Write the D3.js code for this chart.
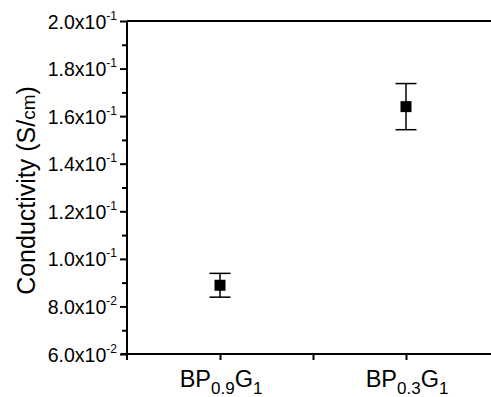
<!DOCTYPE html>
<html>
<head>
<meta charset="utf-8">
<script src="https://cdn.jsdelivr.net/npm/d3@7"></script>
<style>
  body { margin: 0; background: #fff; }
  svg { display: block; font-family: "Liberation Sans", Arial, sans-serif; }
</style>
</head>
<body>
<svg width="491" height="397"></svg>
<script>
// samples, x position is 1-based
const categories = ["BP|0.9|G|1", "BP|0.3|G|1"];
const xPos = [1, 2];
const conductivity = [0.0889, 0.1640];
const errors = [0.0050, 0.0097];

const yTicks = [0.06, 0.08, 0.10, 0.12, 0.14, 0.16, 0.18, 0.20];
const yMinor = [0.07, 0.09, 0.11, 0.13, 0.15, 0.17, 0.19];
const xTicks = [1, 1.5, 2];

const svg = d3.select("svg");
const mLeft = 127, mTop = 21, mBottom = 354;

const x = d3.scaleLinear().domain([0.5, 2.5]).range([mLeft, mLeft + 372]);
const y = d3.scaleLinear().domain([0.06, 0.2]).range([mBottom, mTop]);

// top frame line
svg.append("line")
  .attr("x1", mLeft).attr("x2", 491)
  .attr("y1", mTop).attr("y2", mTop)
  .attr("stroke", "#000").attr("stroke-width", 2);

// minor y ticks
svg.append("g")
  .attr("transform", `translate(${mLeft},0)`)
  .call(d3.axisLeft(y).tickValues(yMinor).tickSize(5).tickFormat(""))
  .call(g => g.select(".domain").remove())
  .selectAll("line").attr("stroke-width", 2);

// y axis
const yAxis = svg.append("g")
  .attr("transform", `translate(${mLeft},0)`)
  .call(d3.axisLeft(y).tickValues(yTicks).tickSize(7).tickSizeOuter(0).tickFormat(""));
yAxis.select(".domain").attr("stroke-width", 2).attr("d", `M0,${mTop}V${mBottom + 6}`);
yAxis.selectAll("line").attr("stroke-width", 2);

yAxis.selectAll(".tick").each(function(d) {
  const e = Math.floor(Math.log10(d) + 1e-9);
  const m = d / Math.pow(10, e);
  const t = d3.select(this).append("text")
    .attr("x", -10).attr("y", 7)
    .attr("text-anchor", "end")
    .attr("fill", "#000")
    .attr("font-size", 19.5);
  t.append("tspan").text(m.toFixed(1) + "x10");
  t.append("tspan").attr("dy", -9).attr("font-size", 12).text(e);
});

// x axis
const xAxis = svg.append("g")
  .attr("transform", `translate(0,${mBottom})`)
  .call(d3.axisBottom(x).tickValues(xTicks).tickSize(6).tickSizeOuter(0).tickFormat(""));
xAxis.select(".domain").attr("stroke-width", 2).attr("d", `M${mLeft - 6},0H491`);
xAxis.selectAll("line").attr("stroke-width", 2);

categories.forEach((c, i) => {
  const parts = c.split("|");
  const t = svg.append("text")
    .attr("x", x(xPos[i]) + 1).attr("y", mBottom + 33)
    .attr("text-anchor", "middle")
    .attr("font-size", 23.5);
  t.append("tspan").text(parts[0]);
  t.append("tspan").attr("dy", 7).attr("font-size", 17).text(parts[1]);
  t.append("tspan").attr("dy", -7).text(parts[2]);
  t.append("tspan").attr("dy", 7).attr("font-size", 17).text(parts[3]);
});

// y label
const yl = svg.append("text")
  .attr("transform", `translate(35,${(mTop + mBottom) / 2 + 3}) rotate(-90)`)
  .attr("text-anchor", "middle")
  .attr("font-size", 25);
yl.append("tspan").text("Conductivity (S/");
yl.append("tspan").attr("font-size", 19).text("cm");
yl.append("tspan").text(")");

// error bars
const pts = xPos.map((p, i) => ({ x: p, v: conductivity[i], e: errors[i] }));
const eb = svg.append("g").attr("stroke", "#000").attr("stroke-width", 1.5);
eb.selectAll(".stem").data(pts).enter().append("line")
  .attr("x1", d => x(d.x)).attr("x2", d => x(d.x))
  .attr("y1", d => y(d.v + d.e)).attr("y2", d => y(d.v - d.e));
eb.selectAll(".capt").data(pts).enter().append("line")
  .attr("x1", d => x(d.x) - 10.5).attr("x2", d => x(d.x) + 10.5)
  .attr("y1", d => y(d.v + d.e)).attr("y2", d => y(d.v + d.e));
eb.selectAll(".capb").data(pts).enter().append("line")
  .attr("x1", d => x(d.x) - 10.5).attr("x2", d => x(d.x) + 10.5)
  .attr("y1", d => y(d.v - d.e)).attr("y2", d => y(d.v - d.e));

// markers
svg.selectAll(".pt").data(pts).enter().append("rect")
  .attr("x", d => x(d.x) - 5.5).attr("y", d => y(d.v) - 5.5)
  .attr("width", 11).attr("height", 11)
  .attr("fill", "#000");
</script>
</body>
</html>
